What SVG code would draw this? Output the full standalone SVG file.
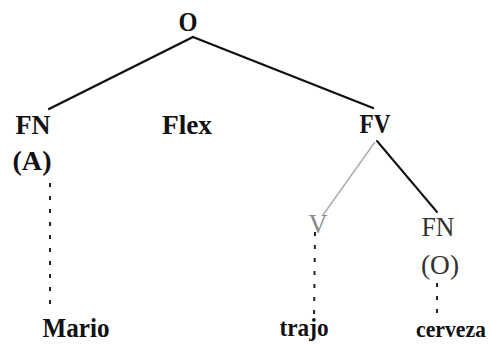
<svg xmlns="http://www.w3.org/2000/svg" width="491" height="345" viewBox="0 0 491 345">
<style>
text{font-family:"Liberation Serif","Times New Roman",serif;font-size:27px;text-anchor:middle;fill:#111}
.b{font-weight:bold}
.r{font-weight:normal;fill:#333}
.edge{stroke:#111;stroke-width:2.4;fill:none;stroke-linecap:round}
.faint{stroke:#aaa;stroke-width:1.4;fill:none}
.dot{stroke:#222;stroke-width:2;fill:none;stroke-dasharray:4 9}
</style>
<rect width="491" height="345" fill="#fff"/>
<g id="connectors">
<line class="edge" x1="193" y1="37" x2="49" y2="109"/>
<line class="edge" x1="193" y1="37" x2="373" y2="108"/>
<line class="faint" x1="375" y1="142" x2="323" y2="215"/>
<line class="edge" x1="377" y1="141" x2="437" y2="212" style="stroke-width:2"/>
<line class="dot" x1="50" y1="183" x2="50" y2="312"/>
<line class="dot" x1="315" y1="232" x2="314" y2="318"/>
<line class="dot" x1="437" y1="283" x2="437" y2="318"/>
</g>
<g id="n-O"><text class="b" x="188" y="31" textLength="19" lengthAdjust="spacingAndGlyphs">O</text></g>
<g id="n-FN-A"><text class="b" x="33" y="134" textLength="35" lengthAdjust="spacingAndGlyphs">FN</text><text class="b" x="32" y="170" textLength="39" lengthAdjust="spacingAndGlyphs">(A)</text></g>
<g id="n-Flex"><text class="b" x="187" y="134" textLength="50" lengthAdjust="spacingAndGlyphs">Flex</text></g>
<g id="n-FV"><text class="b" x="375" y="133" textLength="31" lengthAdjust="spacingAndGlyphs">FV</text></g>
<g id="n-V"><text class="r" x="318" y="233" style="fill:#888" textLength="19" lengthAdjust="spacingAndGlyphs">V</text></g>
<g id="n-FN-O"><text class="r" x="438" y="236" textLength="33" lengthAdjust="spacingAndGlyphs">FN</text><text class="r" x="440" y="274" textLength="38" lengthAdjust="spacingAndGlyphs">(O)</text></g>
<g id="n-Mario"><text class="b" x="76" y="337" textLength="67" lengthAdjust="spacingAndGlyphs">Mario</text></g>
<g id="n-trajo"><text class="b" x="304" y="336" style="font-size:26px" textLength="49" lengthAdjust="spacingAndGlyphs">trajo</text></g>
<g id="n-cerveza"><text class="b" x="451" y="337" style="font-size:23px" textLength="70" lengthAdjust="spacingAndGlyphs">cerveza</text></g>
</svg>
